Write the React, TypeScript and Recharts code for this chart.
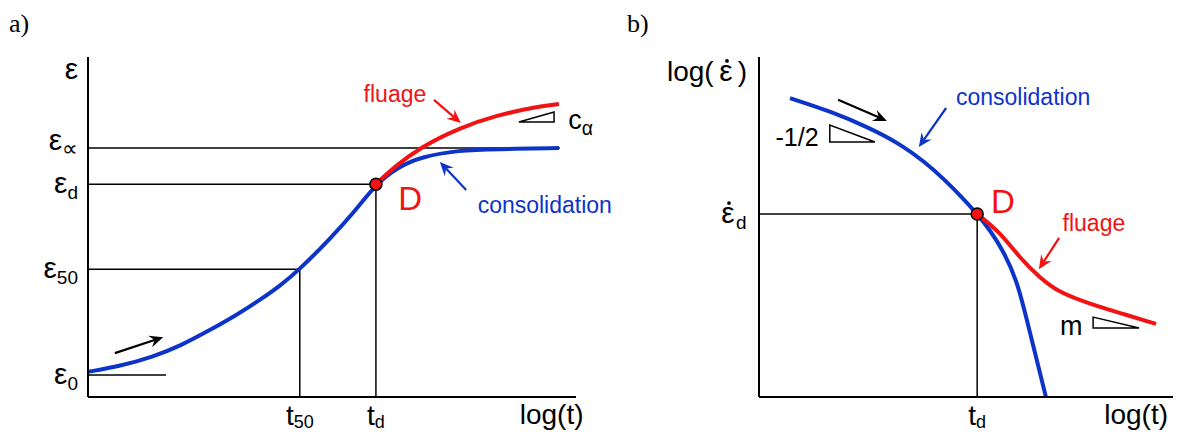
import {
  LineChart,
  Line,
  XAxis,
  YAxis,
  ReferenceLine,
  ReferenceDot,
  ReferenceArea,
} from "recharts";

// a) déformation ε en fonction de log(t) — unités arbitraires 0..100
const A_BLUE_X = [0, 6.6, 13.3, 18.9, 25, 30.1, 35.2, 39.3, 43.4, 49.4, 54.9, 59, 63.5, 68.2, 76, 83.8, 96.5];
const A_BLUE_Y = [7.4, 9.1, 11.8, 15, 19.7, 23.8, 28.5, 32.6, 37.6, 46.2, 55, 62.6, 67.6, 70.6, 72.6, 72.9, 73.2];
const A_RED_X = [59, 62.7, 68.2, 76, 83.8, 91.8, 96.5];
const A_RED_Y = [62.6, 67.6, 73.5, 79.1, 82.9, 85.3, 86.2];

const A_EPS0 = 6.5;
const A_EPS50 = 37.6;
const A_EPSD = 62.6;
const A_EPSINF = 73.2;
const A_T50 = 43.4;
const A_TD = 59;

const A_Y_TICKS = [6.5, 37.6, 62.6, 75.3, 96.2];
const A_Y_LABELS: [string, string][] = [["ε", "0"], ["ε", "50"], ["ε", "d"], ["ε", "∝"], ["ε", ""]];
const A_X_TICKS = [43.4, 59, 95];
const A_X_LABELS: [string, string][] = [["t", "50"], ["t", "d"], ["log(t)", ""]];

// b) vitesse de déformation log(ε̇) en fonction de log(t)
const B_BLUE_X = [7.5, 17.1, 26.8, 34.1, 40.1, 44.9, 49, 52.7, 55.8, 58.9, 62.3, 64.7, 67.1, 69.3];
const B_BLUE_Y = [87.9, 84.1, 79.1, 74.4, 69.1, 63.8, 58.8, 53.8, 49.1, 43.2, 34.4, 22.6, 10.9, 0];
const B_RED_X = [52.7, 58.2, 63, 67.9, 72.7, 80, 87.2, 95.9];
const B_RED_Y = [53.8, 48.5, 40.9, 35, 30.6, 27.4, 24.7, 21.5];

const B_EPSD = 53.8;
const B_TD = 52.7;

const B_Y_TICKS = [53.8, 95.6];
const B_Y_LABELS: [string, string][] = [["ε̇", "d"], ["log( ε̇ )", ""]];
const B_X_TICKS = [52.7, 91.1];
const B_X_LABELS: [string, string][] = [["t", "d"], ["log(t)", ""]];

const BLUE = "#0d34c9";
const RED = "#f21212";
const FONT = "'Liberation Sans', Arial, Helvetica, sans-serif";

const zip = (xs: number[], ys: number[]) => xs.map((x, i) => ({ x, y: ys[i] }));

// ε surmonté d'un point (le point est dessiné, le combinant s'affiche mal)
function DotEps({ cx, base }: { cx: number; base: number }) {
  return (
    <g>
      <text x={cx} y={base} textAnchor="middle" fontFamily={FONT} fontSize={30}>
        ε
      </text>
      <circle cx={cx + 1} cy={base - 20} r={1.9} fill="#000" />
    </g>
  );
}

function yTick(values: number[], labels: [string, string][]) {
  return (props: any) => {
    const i = values.findIndex((v) => Math.abs(v - props.payload.value) < 1e-6);
    if (i < 0) return <g />;
    const [main, sub] = labels[i];
    const { x, y } = props;
    const base = y + 9;
    if (main === "ε̇") {
      return (
        <g fill="#000">
          <DotEps cx={x - 19} base={base} />
          <text x={x - 11} y={base + 6} fontFamily={FONT} fontSize={19}>
            {sub}
          </text>
        </g>
      );
    }
    if (main.startsWith("log(")) {
      return (
        <g fill="#000">
          <text x={x - 80} y={base} fontFamily={FONT} fontSize={28}>
            log(
          </text>
          <DotEps cx={x - 21} base={base} />
          <text x={x} y={base} textAnchor="end" fontFamily={FONT} fontSize={28}>
            )
          </text>
        </g>
      );
    }
    return (
      <text x={x} y={base} textAnchor="end" fontFamily={FONT} fontSize={30} fill="#000">
        <tspan>{main}</tspan>
        {sub && (
          <tspan fontSize={sub === "∝" ? 22 : 19} dy={6}>
            {sub}
          </tspan>
        )}
      </text>
    );
  };
}

function xTick(values: number[], labels: [string, string][]) {
  return (props: any) => {
    const i = values.findIndex((v) => Math.abs(v - props.payload.value) < 1e-6);
    if (i < 0) return <g />;
    const [main, sub] = labels[i];
    const isLog = main.startsWith("log");
    return (
      <text
        x={props.x}
        y={props.y + (isLog ? 27 : 28)}
        textAnchor="middle"
        fontFamily={FONT}
        fontSize={28}
        fill="#000"
      >
        <tspan>{main}</tspan>
        {sub && (
          <tspan fontSize={18} dy={3}>
            {sub}
          </tspan>
        )}
      </text>
    );
  };
}

// flèche : trait + pointe pleine avec encoche
function Arrow(props: any) {
  const { x1, y1, x2, y2, stroke } = props;
  const a = Math.atan2(y2 - y1, x2 - x1);
  const len = 15;
  const spread = 0.42;
  const p = (d: number, da: number) => [x2 - d * Math.cos(a + da), y2 - d * Math.sin(a + da)];
  const l = p(len, -spread);
  const r = p(len, spread);
  const n = p(len * 0.6, 0);
  return (
    <g>
      <line x1={x1} y1={y1} x2={n[0]} y2={n[1]} stroke={stroke} strokeWidth={2.2} />
      <polygon points={`${x2},${y2} ${l[0]},${l[1]} ${n[0]},${n[1]} ${r[0]},${r[1]}`} fill={stroke} />
    </g>
  );
}

// petit triangle de pente
function slopeTri(kind: "rise" | "fall") {
  return (props: any) => {
    const { x, y, width, height } = props;
    const pts =
      kind === "rise"
        ? `${x},${y + height} ${x + width},${y} ${x + width},${y + height}`
        : `${x},${y} ${x},${y + height} ${x + width},${y + height}`;
    return <polygon points={pts} fill="#fff" stroke="#000" strokeWidth={1.5} />;
  };
}

function label(text: string, color: string, size: number, sub?: string, anchor: "middle" | "start" = "middle") {
  return (props: any) => (
    <text
      x={props.cx}
      y={props.cy}
      dy={size * 0.36}
      textAnchor={anchor}
      fontFamily={FONT}
      fontSize={size}
      fill={color}
    >
      <tspan>{text}</tspan>
      {sub && (
        <tspan fontSize={size * 0.72} dy={6}>
          {sub}
        </tspan>
      )}
    </text>
  );
}

const refLine = { stroke: "#000", strokeWidth: 1.5 };
const axisLine = { stroke: "#000", strokeWidth: 2 };
const curve = {
  dataKey: "y",
  type: "basis" as const,
  strokeWidth: 4,
  dot: false,
  activeDot: false,
  isAnimationActive: false,
};

function PanelA() {
  return (
    <LineChart width={640} height={434} margin={{ top: 57, right: 64, bottom: 0, left: 0 }}>
      <XAxis
        type="number"
        dataKey="x"
        domain={[0, 100]}
        allowDataOverflow
        height={37}
        ticks={A_X_TICKS}
        interval={0}
        tickSize={0}
        tickMargin={0}
        tickLine={false}
        axisLine={axisLine}
        tick={xTick(A_X_TICKS, A_X_LABELS)}
      />
      <YAxis
        type="number"
        dataKey="y"
        domain={[0, 100]}
        allowDataOverflow
        width={88}
        ticks={A_Y_TICKS}
        interval={0}
        tickSize={0}
        tickMargin={10}
        tickLine={false}
        axisLine={axisLine}
        tick={yTick(A_Y_TICKS, A_Y_LABELS)}
      />
      <ReferenceLine segment={[{ x: 0, y: A_EPSINF }, { x: 96.7, y: A_EPSINF }]} {...refLine} />
      <ReferenceLine segment={[{ x: 0, y: A_EPSD }, { x: A_TD, y: A_EPSD }]} {...refLine} />
      <ReferenceLine segment={[{ x: 0, y: A_EPS50 }, { x: A_T50, y: A_EPS50 }]} {...refLine} />
      <ReferenceLine segment={[{ x: 0, y: A_EPS0 }, { x: 16, y: A_EPS0 }]} {...refLine} />
      <ReferenceLine segment={[{ x: A_T50, y: 0 }, { x: A_T50, y: A_EPS50 }]} {...refLine} />
      <ReferenceLine segment={[{ x: A_TD, y: 0 }, { x: A_TD, y: A_EPSD }]} {...refLine} />

      <Line data={zip(A_BLUE_X, A_BLUE_Y)} stroke={BLUE} {...curve} />
      <Line data={zip(A_RED_X, A_RED_Y)} stroke={RED} {...curve} />

      <ReferenceLine segment={[{ x: 5.5, y: 12.9 }, { x: 15.4, y: 17.6 }]} stroke="#000" shape={Arrow} />
      <ReferenceLine segment={[{ x: 70.9, y: 87.4 }, { x: 76.4, y: 80.6 }]} stroke={RED} shape={Arrow} />
      <ReferenceLine segment={[{ x: 77.5, y: 60.9 }, { x: 72.1, y: 69.1 }]} stroke={BLUE} shape={Arrow} />
      <ReferenceArea x1={88.3} x2={95.5} y1={80.9} y2={83.8} shape={slopeTri("rise")} />

      <ReferenceDot x={62.9} y={89.1} ifOverflow="visible" shape={label("fluage", RED, 23)} />
      <ReferenceDot x={93.6} y={56.5} ifOverflow="visible" shape={label("consolidation", BLUE, 23)} />
      <ReferenceDot x={66} y={58.5} ifOverflow="visible" shape={label("D", RED, 33)} />
      <ReferenceDot x={98.4} y={81.8} ifOverflow="visible" shape={label("c", "#000", 27, "α", "start")} />
      <ReferenceDot x={A_TD} y={A_EPSD} r={6} fill={RED} stroke="#000" strokeWidth={1.5} />
    </LineChart>
  );
}

function PanelB() {
  return (
    <LineChart width={577} height={434} margin={{ top: 57, right: 4, bottom: 0, left: 0 }}>
      <XAxis
        type="number"
        dataKey="x"
        domain={[0, 100]}
        allowDataOverflow
        height={37}
        ticks={B_X_TICKS}
        interval={0}
        tickSize={0}
        tickMargin={0}
        tickLine={false}
        axisLine={axisLine}
        tick={xTick(B_X_TICKS, B_X_LABELS)}
      />
      <YAxis
        type="number"
        dataKey="y"
        domain={[0, 100]}
        allowDataOverflow
        width={159}
        ticks={B_Y_TICKS}
        interval={0}
        tickSize={0}
        tickMargin={12}
        tickLine={false}
        axisLine={axisLine}
        tick={yTick(B_Y_TICKS, B_Y_LABELS)}
      />
      <ReferenceLine segment={[{ x: 0, y: B_EPSD }, { x: B_TD, y: B_EPSD }]} {...refLine} />
      <ReferenceLine segment={[{ x: B_TD, y: 0 }, { x: B_TD, y: B_EPSD }]} {...refLine} />

      <Line data={zip(B_BLUE_X, B_BLUE_Y)} stroke={BLUE} {...curve} />
      <Line data={zip(B_RED_X, B_RED_Y)} stroke={RED} {...curve} />

      <ReferenceLine segment={[{ x: 19.1, y: 87.4 }, { x: 30.9, y: 81.2 }]} stroke="#000" shape={Arrow} />
      <ReferenceLine segment={[{ x: 45.2, y: 85 }, { x: 38.6, y: 73.5 }]} stroke={BLUE} shape={Arrow} />
      <ReferenceLine segment={[{ x: 72.5, y: 46.8 }, { x: 67.6, y: 37.6 }]} stroke={RED} shape={Arrow} />
      <ReferenceArea x1={17.1} x2={28} y1={75} y2={80} shape={slopeTri("fall")} />
      <ReferenceArea x1={80.7} x2={91.8} y1={20.3} y2={23.5} shape={slopeTri("fall")} />

      <ReferenceDot x={63.8} y={88.2} ifOverflow="visible" shape={label("consolidation", BLUE, 23)} />
      <ReferenceDot x={80.9} y={51.2} ifOverflow="visible" shape={label("fluage", RED, 23)} />
      <ReferenceDot x={58.9} y={57.6} ifOverflow="visible" shape={label("D", RED, 33)} />
      <ReferenceDot x={9.2} y={76.5} ifOverflow="visible" shape={label("-1/2", "#000", 25)} />
      <ReferenceDot x={75.4} y={21.2} ifOverflow="visible" shape={label("m", "#000", 27)} />
      <ReferenceDot x={B_TD} y={B_EPSD} r={6} fill={RED} stroke="#000" strokeWidth={1.5} />
    </LineChart>
  );
}

const panelTitle = {
  position: "absolute" as const,
  top: 10,
  fontFamily: "'Liberation Serif', 'Times New Roman', serif",
  fontSize: 26,
  lineHeight: "28px",
};

export default function App() {
  return (
    <div style={{ position: "absolute", left: 0, top: 0, width: 1177, height: 434, background: "#fff" }}>
      <div style={{ position: "absolute", left: 0, top: 0 }}>
        <PanelA />
      </div>
      <div style={{ position: "absolute", left: 600, top: 0 }}>
        <PanelB />
      </div>
      <div style={{ ...panelTitle, left: 9 }}>a)</div>
      <div style={{ ...panelTitle, left: 627 }}>b)</div>
    </div>
  );
}
